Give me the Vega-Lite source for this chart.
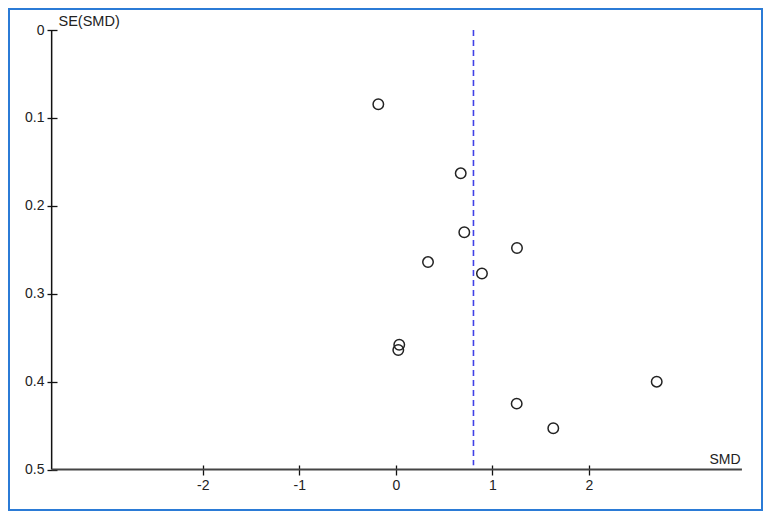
{
  "$schema": "https://vega.github.io/schema/vega-lite/v6.json",
  "width": 753,
  "height": 501,
  "autosize": {"type": "none"},
  "padding": {"left": 9, "top": 9, "right": 8, "bottom": 9},
  "background": "white",
  "config": {
    "view": {"stroke": "#2b7bd6", "strokeWidth": 2},
    "font": "Liberation Sans"
  },
  "layer": [
    {
      "data": {"values": [
        {"x": -3.566, "y": 0, "y2": 0.5, "line": "yaxis"}
      ]},
      "mark": {"type": "rule", "color": "#111", "strokeWidth": 1.5},
      "encoding": {
        "x": {"field": "x", "type": "quantitative"},
        "y": {"field": "y", "type": "quantitative"},
        "y2": {"field": "y2"}
      }
    },
    {
      "data": {"values": [
        {"x": -3.566, "x2": 3.587, "y": 0.5, "line": "xaxis"}
      ]},
      "mark": {"type": "rule", "color": "#444", "strokeWidth": 2},
      "encoding": {
        "x": {"field": "x", "type": "quantitative"},
        "x2": {"field": "x2"},
        "y": {"field": "y", "type": "quantitative"}
      }
    },
    {
      "data": {"values": [{"smd": 0.805, "se0": 0, "se1": 0.495}]},
      "mark": {"type": "rule", "color": "#4141e6", "strokeWidth": 1.6, "strokeDash": [6, 4]},
      "encoding": {
        "x": {"field": "smd", "type": "quantitative"},
        "y": {"field": "se0", "type": "quantitative"},
        "y2": {"field": "se1"}
      }
    },
    {
      "data": {"values": [
        {"smd": -0.181, "se": 0.0845},
        {"smd": 0.673, "se": 0.163},
        {"smd": 0.710, "se": 0.230},
        {"smd": 1.256, "se": 0.248},
        {"smd": 0.334, "se": 0.264},
        {"smd": 0.893, "se": 0.277},
        {"smd": 0.036, "se": 0.358},
        {"smd": 0.026, "se": 0.364},
        {"smd": 1.253, "se": 0.425},
        {"smd": 2.704, "se": 0.400},
        {"smd": 1.632, "se": 0.453}
      ]},
      "mark": {"type": "point", "shape": "circle", "filled": false, "size": 110, "stroke": "#222", "strokeWidth": 1.5, "opacity": 1},
      "encoding": {
        "x": {
          "field": "smd", "type": "quantitative",
          "scale": {"domain": [-4.008, 3.795], "nice": false, "zero": false},
          "axis": {
            "values": [-2, -1, 0, 1, 2],
            "labelExpr": "'' + datum.value",
            "offset": -45,
            "domain": false,
            "grid": false,
            "tickSize": 10,
            "tickColor": "#111",
            "tickWidth": 1.3,
            "labelPadding": 3,
            "labelFontSize": 14,
            "labelColor": "#222",
            "labelFont": "Liberation Sans",
            "title": "SMD",
            "titleFontSize": 14,
            "titleFontWeight": "normal",
            "titleFont": "Liberation Sans",
            "titleColor": "#222",
            "titleX": 731,
            "titleY": -2,
            "titleAlign": "right",
            "titleBaseline": "alphabetic",
            "titleAnchor": null
          }
        },
        "y": {
          "field": "se", "type": "quantitative",
          "scale": {"domain": [-0.0239, 0.546], "nice": false, "zero": false, "reverse": true},
          "axis": {
            "values": [0, 0.1, 0.2, 0.3, 0.4, 0.5],
            "labelExpr": "'' + datum.value",
            "offset": -48,
            "domain": false,
            "grid": false,
            "tickSize": 10,
            "tickColor": "#111",
            "tickWidth": 1.3,
            "labelPadding": 3,
            "labelFontSize": 14,
            "labelColor": "#222",
            "labelFont": "Liberation Sans",
            "title": "SE(SMD)",
            "titleFontSize": 14.5,
            "titleFontWeight": "normal",
            "titleFont": "Liberation Sans",
            "titleColor": "#222",
            "titleAngle": 0,
            "titleX": 1,
            "titleY": 16,
            "titleAlign": "left",
            "titleBaseline": "alphabetic"
          }
        }
      }
    }
  ]
}
